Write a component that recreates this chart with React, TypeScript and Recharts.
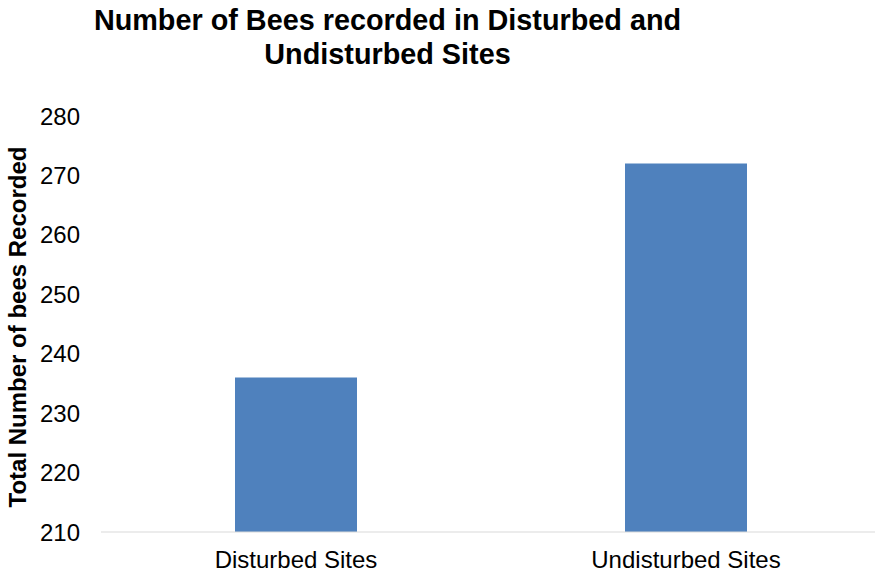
import { BarChart, Bar, XAxis, YAxis } from "recharts";

const sites = ["Disturbed Sites", "Undisturbed Sites"];
const beeCounts = [236, 272];
const yTicks = [210, 220, 230, 240, 250, 260, 270, 280];

const data = sites.map((site, i) => ({ site, bees: beeCounts[i] }));

const font = "'Liberation Sans', Arial, sans-serif";

const YTitle = () => (
  <text
    transform="translate(26, 327) rotate(-90)"
    textAnchor="middle"
    fontFamily={font}
    fontWeight={700}
    fontSize={24}
    fill="#000"
  >
    Total Number of bees Recorded
  </text>
);

export default function App() {
  return (
    <div style={{ position: "absolute", left: 0, top: 0, width: 875, height: 573, overflow: "hidden", background: "#fff" }}>
      <div
        style={{
          position: "absolute",
          left: 0,
          top: 3,
          width: 775,
          textAlign: "center",
          fontFamily: font,
          fontWeight: 700,
          fontSize: 28.8,
          lineHeight: "34px",
          color: "#000",
          whiteSpace: "nowrap",
        }}
      >
        Number of Bees recorded in Disturbed and
        <br />
        Undisturbed Sites
      </div>
      <BarChart width={881} height={573} data={data} margin={{ top: 116, right: 0, bottom: 0, left: 0 }}>
        <XAxis
          dataKey="site"
          stroke="#d9d9d9"
          tickLine={false}
          tick={{ fill: "#000", fontSize: 24, fontFamily: font }}
          tickMargin={13}
          height={41}
        />
        <YAxis
          domain={[210, 280]}
          ticks={yTicks}
          allowDataOverflow
          axisLine={false}
          tickLine={false}
          tickSize={0}
          tickMargin={21}
          width={101}
          tick={{ fill: "#000", fontSize: 24, fontFamily: font }}
          label={{ content: () => <YTitle /> }}
        />
        <Bar dataKey="bees" fill="#4f81bd" barSize={122} isAnimationActive={false} />
      </BarChart>
    </div>
  );
}
